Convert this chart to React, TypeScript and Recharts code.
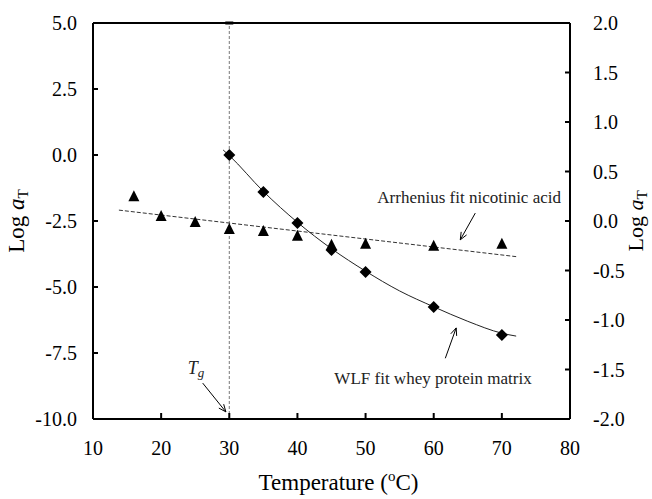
import {
  ComposedChart,
  XAxis,
  YAxis,
  Scatter,
  Line,
  ReferenceLine,
  ReferenceDot,
  Label,
} from 'recharts';

// whey protein matrix (left axis)
const wheyTemps = [30, 35, 40, 45, 50, 60, 70];
const wheyLogAT = [0.0, -1.4, -2.58, -3.6, -4.43, -5.76, -6.82];

// nicotinic acid (right axis)
const nicoTemps = [16, 20, 25, 30, 35, 40, 45, 50, 60, 70];
const nicoLogAT = [0.25, 0.05, -0.01, -0.08, -0.1, -0.15, -0.24, -0.23, -0.25, -0.23];

// fitted curves
const wlfFitTemps = [29.1, 30, 35, 40, 45, 50, 55, 60, 65, 70, 72.1];
const wlfFitLogAT = [0.19, -0.02, -1.38, -2.55, -3.55, -4.4, -5.15, -5.75, -6.3, -6.75, -6.86];
const arrFitTemps = [13.8, 72.1];
const arrFitLogAT = [0.11, -0.36];

const xTicks = [10, 20, 30, 40, 50, 60, 70, 80];
const leftTicks = [-10, -7.5, -5, -2.5, 0, 2.5, 5];
const rightTicks = [-2, -1.5, -1, -0.5, 0, 0.5, 1, 1.5, 2];
const tgTemp = 30;

const FONT = 'Liberation Serif, Times New Roman, DejaVu Serif, serif';

const wheyData = wheyTemps.map((x, i) => ({ x, y: wheyLogAT[i] }));
const nicoData = nicoTemps.map((x, i) => ({ x, y: nicoLogAT[i] }));
const wlfData = wlfFitTemps.map((x, i) => ({ x, y: wlfFitLogAT[i] }));
const arrData = arrFitTemps.map((x, i) => ({ x, y: arrFitLogAT[i] }));

const tickStyle = { fill: '#000', fontSize: 20, fontFamily: FONT, style: { fontFamily: FONT } };

const Diamond = (p: any) => {
  const { cx, cy } = p;
  const s = 6;
  return <path d={`M${cx},${cy - s} L${cx + s},${cy} L${cx},${cy + s} L${cx - s},${cy} Z`} fill="#000" />;
};

const Triangle = (p: any) => {
  const { cx, cy } = p;
  return <path d={`M${cx},${cy - 6} L${cx + 5.5},${cy + 5} L${cx - 5.5},${cy + 5} Z`} fill="#000" />;
};

const Arrow = (p: any) => {
  const { x1, y1, x2, y2 } = p;
  const a = Math.atan2(y2 - y1, x2 - x1);
  const h = 8;
  const w = 0.4;
  const ax = x2 - h * Math.cos(a - w);
  const ay = y2 - h * Math.sin(a - w);
  const bx = x2 - h * Math.cos(a + w);
  const by = y2 - h * Math.sin(a + w);
  return (
    <g stroke="#000" strokeWidth={1} fill="none">
      <line x1={x1} y1={y1} x2={x2} y2={y2} />
      <path d={`M${ax},${ay} L${x2},${y2} L${bx},${by}`} />
    </g>
  );
};

const textAt = (content: React.ReactNode, size = 17) => (p: any) => (
  <text
    x={p.cx}
    y={p.cy}
    textAnchor="middle"
    dominantBaseline="central"
    style={{ fontFamily: FONT }}
    fontSize={size}
    fill="#222"
  >
    {content}
  </text>
);

const logAT = (
  <>
    Log{' '}
    <tspan fontStyle="italic">a</tspan>
    <tspan fontSize={15} dy={4}>T</tspan>
  </>
);

export default function App() {
  return (
    <div style={{ position: 'absolute', left: 0, top: 0, fontFamily: FONT }}>
      <ComposedChart width={652} height={499} margin={{ top: 23, right: 0, bottom: 0, left: 0 }}>
        <XAxis
          type="number"
          dataKey="x"
          domain={[10, 80]}
          ticks={xTicks}
          interval={0}
          height={80}
          stroke="#000"
          strokeWidth={2}
          tickSize={-6}
          tickMargin={28}
          tick={tickStyle}
        >
          <Label
            content={(props: any) => {
              const vb = props.viewBox;
              return (
                <text x={vb.x + vb.width / 2 + 7} y={vb.y + 71} textAnchor="middle" style={{ fontFamily: FONT }} fontSize={23} fill="#000">
                  Temperature (
                  <tspan fontSize={15} dy={-9}>o</tspan>
                  <tspan dy={9}>C)</tspan>
                </text>
              );
            }}
          />
        </XAxis>
        <YAxis
          yAxisId="left"
          type="number"
          dataKey="y"
          domain={[-10, 5]}
          ticks={leftTicks}
          interval={0}
          width={93}
          stroke="#000"
          strokeWidth={2}
          tickSize={-5}
          tickMargin={21}
          tickFormatter={(v: number) => v.toFixed(1)}
          tick={tickStyle}
        >
          <Label
            content={(props: any) => {
              const vb = props.viewBox;
              const cy = vb.y + vb.height / 2;
              return (
                <text x={24} y={cy} transform={`rotate(-90 24 ${cy})`} textAnchor="middle" style={{ fontFamily: FONT }} fontSize={23} fill="#000">
                  {logAT}
                </text>
              );
            }}
          />
        </YAxis>
        <YAxis
          yAxisId="right"
          orientation="right"
          type="number"
          dataKey="y"
          domain={[-2, 2]}
          ticks={rightTicks}
          interval={0}
          width={82}
          stroke="#000"
          strokeWidth={2}
          tickSize={-5}
          tickMargin={28}
          tickFormatter={(v: number) => v.toFixed(1)}
          tick={tickStyle}
        >
          <Label
            content={(props: any) => {
              const vb = props.viewBox;
              const cy = vb.y + vb.height / 2;
              return (
                <text x={643} y={cy} transform={`rotate(-90 643 ${cy})`} textAnchor="middle" style={{ fontFamily: FONT }} fontSize={22} fill="#000">
                  {logAT}
                </text>
              );
            }}
          />
        </YAxis>

        {/* top frame */}
        <ReferenceLine yAxisId="left" y={5} stroke="#000" strokeWidth={2} />
        {/* glass transition */}
        <ReferenceLine yAxisId="left" x={tgTemp} stroke="#777" strokeWidth={1} strokeDasharray="3 2" />
        <ReferenceDot
          yAxisId="left"
          x={tgTemp}
          y={5}
          shape={(p: any) => <rect x={p.cx - 4} y={p.cy - 1.5} width={8} height={3} fill="#000" />}
        />

        <Line
          yAxisId="right"
          data={arrData}
          dataKey="y"
          type="linear"
          stroke="#333"
          strokeWidth={1}
          strokeDasharray="4 2"
          dot={false}
          isAnimationActive={false}
        />
        <Line
          yAxisId="left"
          data={wlfData}
          dataKey="y"
          type="monotone"
          stroke="#222"
          strokeWidth={1}
          dot={false}
          isAnimationActive={false}
        />
        <Scatter yAxisId="right" data={nicoData} dataKey="y" shape={Triangle} isAnimationActive={false} />
        <Scatter yAxisId="left" data={wheyData} dataKey="y" shape={Diamond} isAnimationActive={false} />

        {/* annotations */}
        <ReferenceDot yAxisId="right" x={65.2} y={0.24} shape={textAt('Arrhenius fit nicotinic acid')} />
        <ReferenceLine yAxisId="right" segment={[{ x: 66.1, y: 0.08 }, { x: 63.9, y: -0.19 }]} shape={Arrow} />
        <ReferenceDot yAxisId="left" x={59.9} y={-8.45} shape={textAt('WLF fit whey protein matrix')} />
        <ReferenceLine yAxisId="left" segment={[{ x: 61.7, y: -7.7 }, { x: 63.3, y: -6.55 }]} shape={Arrow} />
        <ReferenceDot
          yAxisId="left"
          x={25.1}
          y={-8.07}
          shape={textAt(
            <>
              <tspan fontStyle="italic">T</tspan>
              <tspan fontStyle="italic" fontSize={13} dy={4}>g</tspan>
            </>,
            18,
          )}
        />
        <ReferenceLine yAxisId="left" segment={[{ x: 26.1, y: -8.64 }, { x: 29.5, y: -9.73 }]} shape={Arrow} />
      </ComposedChart>
    </div>
  );
}
